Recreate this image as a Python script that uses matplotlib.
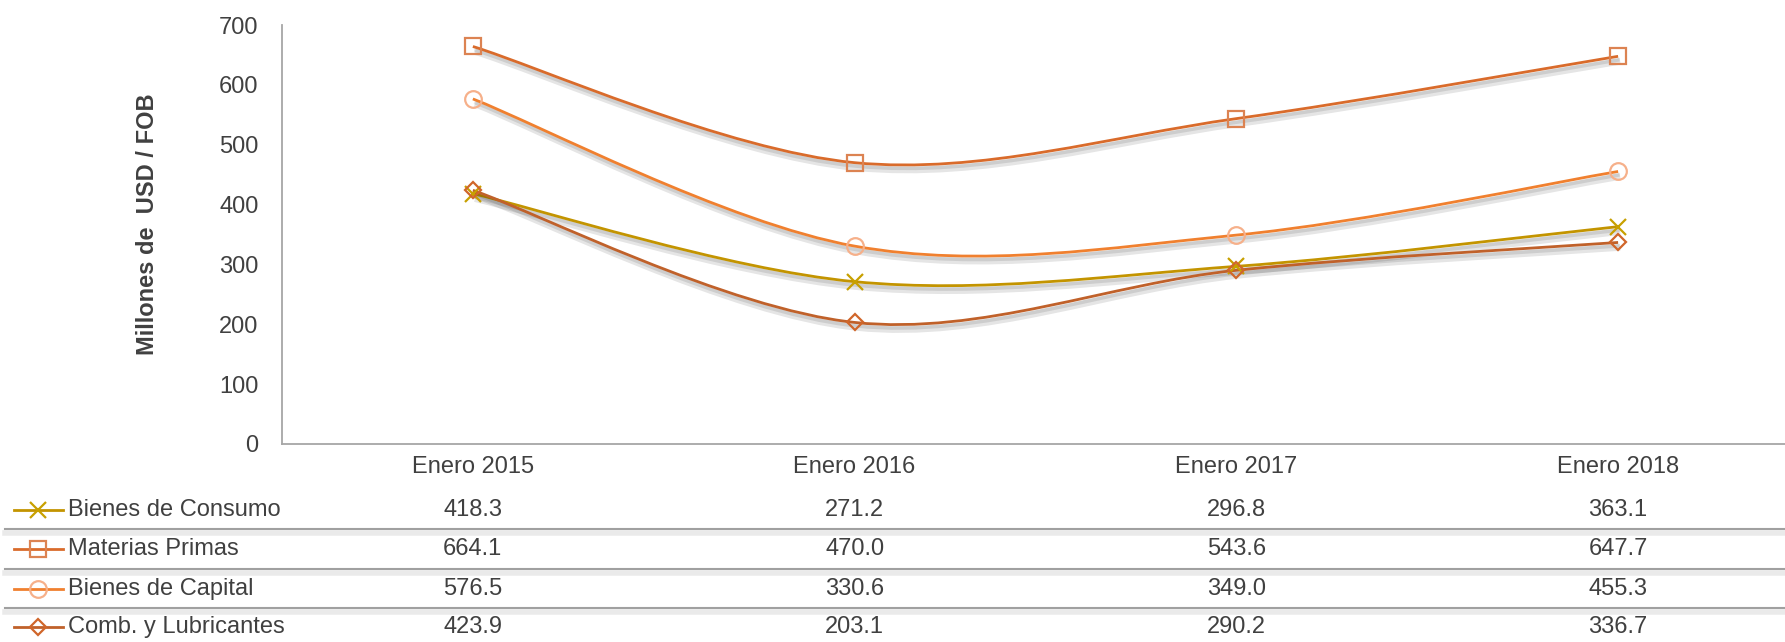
import matplotlib
matplotlib.use("Agg")
import matplotlib.pyplot as plt
import matplotlib.patheffects as pe
from matplotlib.path import Path
from matplotlib.patches import PathPatch
from matplotlib.lines import Line2D
from matplotlib import font_manager
import matplotlib.transforms as mtransforms
import numpy as np

# data
categories = ["Enero 2015", "Enero 2016", "Enero 2017", "Enero 2018"]
series_names = ["Bienes de Consumo", "Materias Primas", "Bienes de Capital", "Comb. y Lubricantes"]
consumo = [418.3, 271.2, 296.8, 363.1]
materias = [664.1, 470.0, 543.6, 647.7]
capital = [576.5, 330.6, 349.0, 455.3]
comb = [423.9, 203.1, 290.2, 336.7]
yticks = [0, 100, 200, 300, 400, 500, 600, 700]

values = [consumo, materias, capital, comb]
line_colors = ["#C39400", "#D96B2B", "#F0802F", "#C0612A"]
marker_colors = ["#C8A000", "#DC8352", "#F6B08A", "#D0662A"]
markers = ["x", "s", "o", "D"]
msizes = [12, 11, 12, 8.5]

avail = {f.name for f in font_manager.fontManager.ttflist}
fam = [f for f in ["Liberation Sans Narrow", "Liberation Sans", "DejaVu Sans"] if f in avail]
plt.rcParams["font.family"] = fam
txt = "#404040"
fs = 17

W, H = 1785, 642
fig = plt.figure(figsize=(W / 100, H / 100), dpi=100)

x0_px, step_px = 472, 382
left_px, bottom_px, top_px = 282, 444, 25
xmax = (W - x0_px) / step_px
ax = fig.add_axes([left_px / W, 1 - bottom_px / H, 1 - left_px / W, (bottom_px - top_px) / H])
ax.set_xlim(-0.5, xmax)
ax.set_ylim(0, 700)
ax.set_yticks(yticks)
ax.set_xticks([])
ax.tick_params(axis="y", length=0, pad=17, labelsize=fs, labelcolor=txt)
for s in ["top", "right"]:
    ax.spines[s].set_visible(False)
for s in ["left", "bottom"]:
    ax.spines[s].set_color("#A6A6A6")
    ax.spines[s].set_linewidth(1.3)
ax.set_ylabel("Millones de  USD / FOB", fontsize=fs, fontweight="bold", color=txt)
ax.yaxis.set_label_coords(-0.082, 0.525)

shadow = [pe.SimpleLineShadow(offset=(1.5, -3.5), shadow_color="black", alpha=0.10, linewidth=5),
          pe.SimpleLineShadow(offset=(1, -2.5), shadow_color="black", alpha=0.10, linewidth=2.5),
          pe.Normal()]


def smooth_path(xs, ys):
    pts = np.column_stack([xs, ys])
    verts = [pts[0]]
    codes = [Path.MOVETO]
    n = len(pts)
    for i in range(n - 1):
        p0 = pts[i - 1] if i > 0 else pts[i]
        p1, p2 = pts[i], pts[i + 1]
        p3 = pts[i + 2] if i + 2 < n else pts[i + 1]
        c1 = p1 + (p2 - p0) / 6
        c2 = p2 - (p3 - p1) / 6
        verts += [c1, c2, p2]
        codes += [Path.CURVE4] * 3
    return Path(verts, codes)


xs = np.arange(len(categories))
for vals, lc, mc, m, ms in zip(values, line_colors, marker_colors, markers, msizes):
    patch = PathPatch(smooth_path(xs, vals), facecolor="none", edgecolor=lc, lw=2, zorder=3)
    patch.set_path_effects(shadow)
    ax.add_patch(patch)
    ax.plot(xs, vals, linestyle="none", marker=m, markersize=ms, markerfacecolor="none",
            markeredgecolor=mc, markeredgewidth=1.6, zorder=4)

# data table under the chart
blend = mtransforms.blended_transform_factory(ax.transData, fig.transFigure)
cat_y = 1 - 467 / H
for i, c in enumerate(categories):
    fig.text(i, cat_y, c, transform=blend, ha="center", va="center", fontsize=fs, color=txt)

row_px = [510, 549, 589, 627]
sep_px = [529, 569, 608]
for ypx in sep_px:
    yf = 1 - ypx / H
    ln = Line2D([5 / W, 1], [yf, yf], transform=fig.transFigure, color="#A0A0A0", lw=1.5)
    ln.set_path_effects([pe.SimpleLineShadow(offset=(0, -3), shadow_color="#999999", alpha=0.2,
                                             linewidth=4), pe.Normal()])
    fig.add_artist(ln)

for name, vals, lc, mc, m, ms, ypx in zip(series_names, values, line_colors, marker_colors,
                                          markers, msizes, row_px):
    yf = 1 - ypx / H
    fig.add_artist(Line2D([14 / W, 63 / W], [yf, yf], transform=fig.transFigure, color=lc, lw=2))
    fig.add_artist(Line2D([38 / W], [yf], transform=fig.transFigure, linestyle="none", marker=m,
                          markersize=ms, markerfacecolor="none", markeredgecolor=mc,
                          markeredgewidth=1.6))
    fig.text(68 / W, yf, name, ha="left", va="center", fontsize=fs, color=txt)
    for i, v in enumerate(vals):
        fig.text(i, yf, f"{v:.1f}", transform=blend, ha="center", va="center", fontsize=fs, color=txt)

fig.savefig("out.png", dpi=100)
